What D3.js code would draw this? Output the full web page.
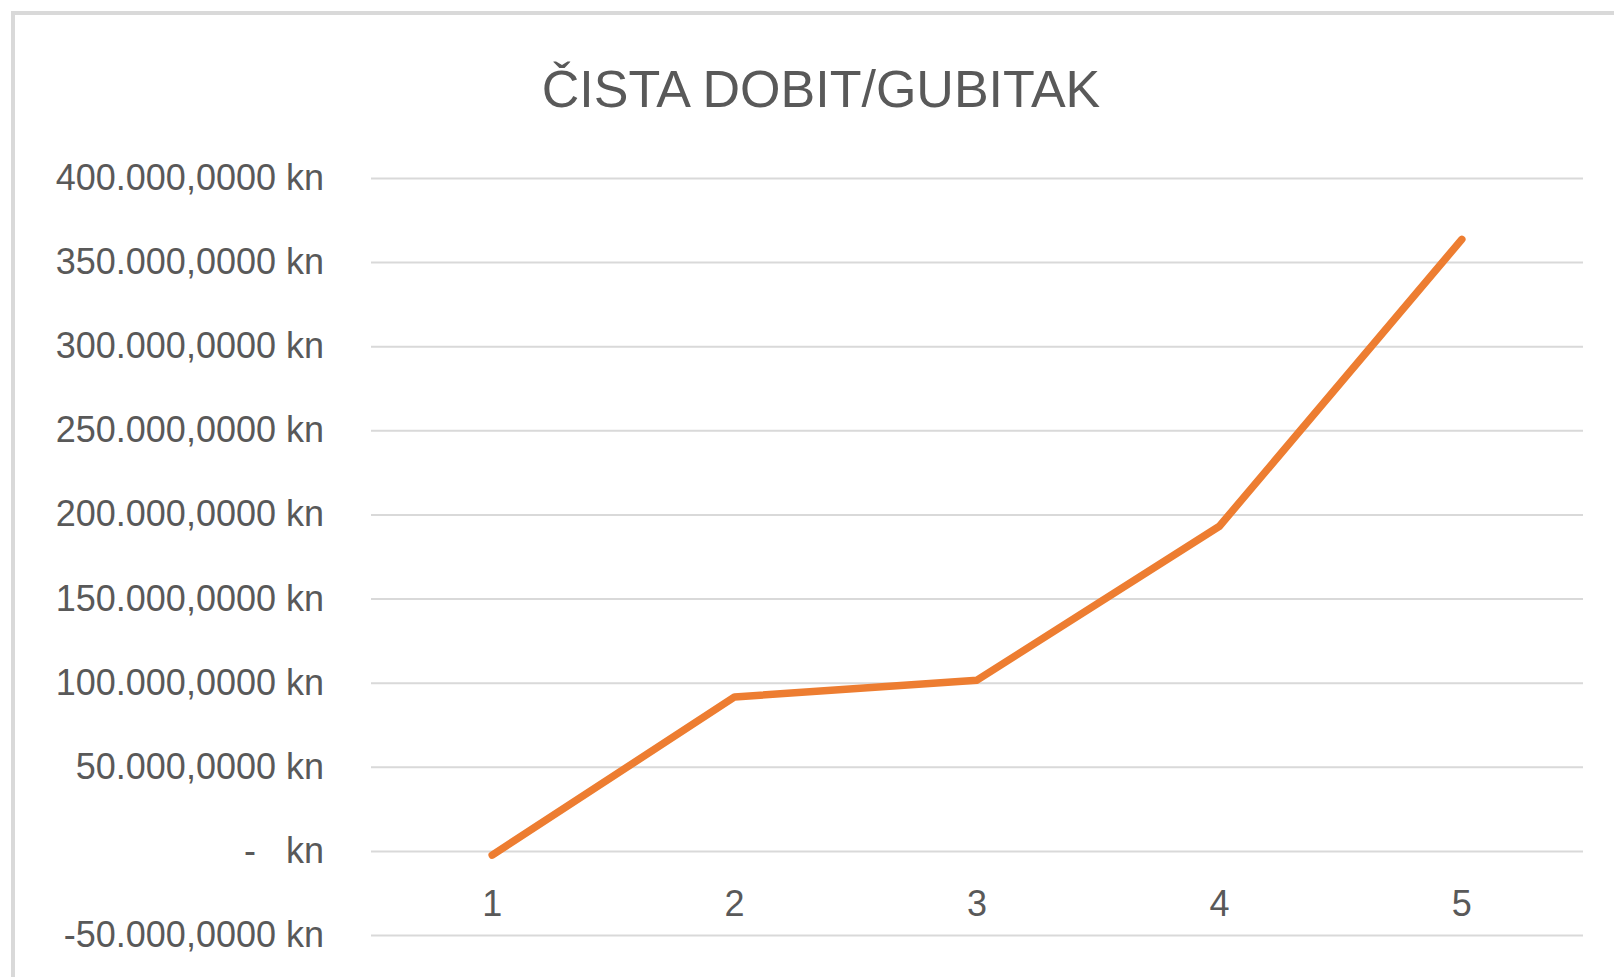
<!DOCTYPE html>
<html>
<head>
<meta charset="utf-8">
<script src="https://cdn.jsdelivr.net/npm/d3@7"></script>
<style>
  body { margin: 0; background: #fff; }
  text { font-family: "Liberation Sans", Arial, sans-serif; fill: #595959; }
</style>
</head>
<body>
<svg id="drawing_line"></svg>
<script>
// data
const title = "ČISTA DOBIT/GUBITAK";
const categories = ["1", "2", "3", "4", "5"];
const values = [-2500000, 91500000, 101500000, 193000000, 363500000];
const yTicks = [-50000000, 0, 50000000, 100000000, 150000000, 200000000, 250000000, 300000000, 350000000, 400000000];

const width = 1614;
const height = 977;
const margin = { top: 178, right: 31, bottom: 42, left: 371 };

const svg = d3.select('#drawing_line')
    .attr('width', width)
    .attr('height', height);

// chart area border: only left and top edges are visible in the screenshot
svg.append('path')
    .attr('d', `M13,${height} V13 H${width}`)
    .attr('fill', 'none')
    .attr('stroke', '#d9d9d9')
    .attr('stroke-width', 4);

svg.append('text')
    .attr('x', 821)
    .attr('y', 107)
    .attr('text-anchor', 'middle')
    .style('font-size', '52px')
    .text(title);

const chart = svg.append('g')
    .attr('transform', `translate(${margin.left}, ${margin.top})`);

const innerWidth = width - margin.left - margin.right;
const innerHeight = height - margin.top - margin.bottom;

const xscale = d3.scaleBand()
    .domain(categories)
    .range([0, innerWidth]);

const yscale = d3.scaleLinear()
    .domain([d3.min(yTicks), d3.max(yTicks)])
    .range([innerHeight, 0]);

// hr. računovodstveni format: 400.000,0000 kn, nula kao "-   kn"
const hr = d3.formatLocale({ decimal: ",", thousands: ".", grouping: [3], currency: ["", " kn"], minus: "-" });
const fmtThousands = hr.format(",");

const yaxis = d3.axisLeft(yscale)
    .tickValues(yTicks)
    .tickFormat(d => {
        if (d === 0) return "-\u00a0\u00a0\u00a0kn";
        return fmtThousands(d / 1000) + ",0000 kn";
    })
    .tickSizeInner(-innerWidth)
    .tickSizeOuter(0)
    .tickPadding(47);

const yaxisGroup = chart.append('g').call(yaxis);
yaxisGroup.select('.domain').remove();
yaxisGroup.selectAll('line')
    .attr('stroke', '#d9d9d9')
    .attr('stroke-width', 2);
yaxisGroup.selectAll('text')
    .style('font-size', '36px')
    .attr('fill', '#595959');

const xaxis = d3.axisBottom(xscale)
    .tickSize(0)
    .tickPadding(40);

const xaxisGroup = chart.append('g')
    .attr('transform', `translate(0, ${yscale(0)})`)
    .call(xaxis);
xaxisGroup.select('.domain').remove();
xaxisGroup.selectAll('text')
    .style('font-size', '36px')
    .attr('fill', '#595959');

const line = d3.line()
    .x((d, i) => xscale(categories[i]) + xscale.bandwidth() / 2)
    .y(d => yscale(d));

chart.append('path')
    .datum(values)
    .attr('d', line)
    .attr('fill', 'none')
    .attr('stroke', '#ED7D31')
    .attr('stroke-width', 7.5)
    .attr('stroke-linecap', 'round')
    .attr('stroke-linejoin', 'round');
</script>
</body>
</html>
